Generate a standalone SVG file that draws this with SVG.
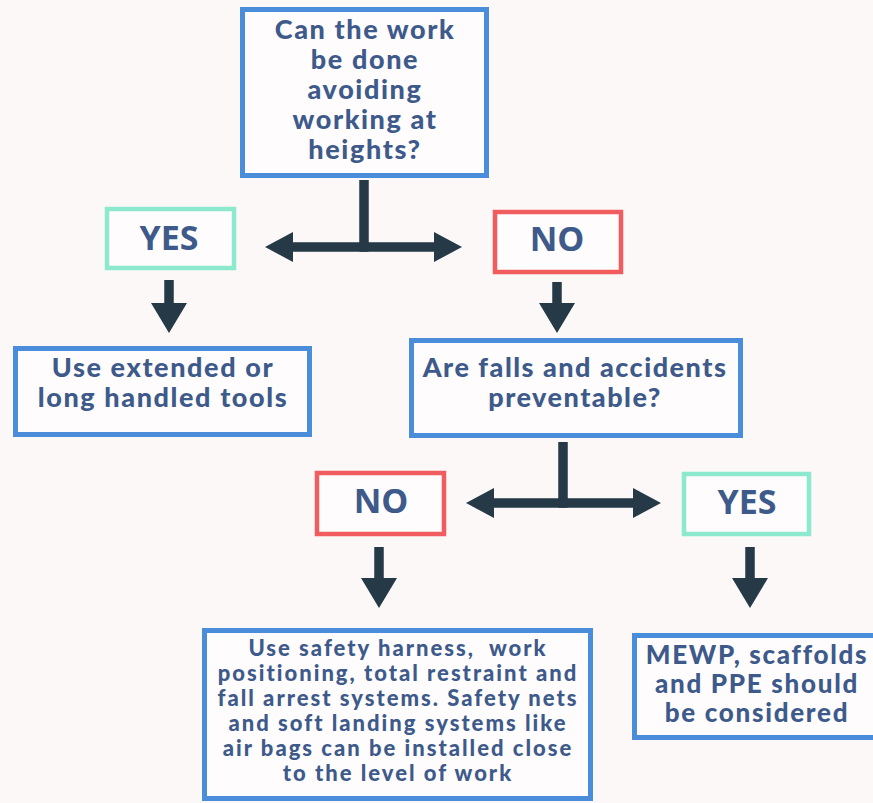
<svg xmlns="http://www.w3.org/2000/svg" width="873" height="803" viewBox="0 0 873 803">
<defs>
<style>
.bg{fill:#fcf8f7}
.box{fill:#fefcfc;stroke-width:5}
.blue{stroke:#4a8edb}
.green{stroke:#8ce9cd;stroke-width:4.5}
.red{stroke:#f15d5f;stroke-width:4.5}
.t{font-family:Lato,"Open Sans","DejaVu Sans",sans-serif;font-weight:900;fill:#3d5a8b;text-anchor:middle}
.yn{font-family:"Open Sans",Lato,"DejaVu Sans",sans-serif;font-weight:700;fill:#3d5a8b;text-anchor:middle;font-size:34px}
.c{fill:none;stroke:#253947;stroke-width:9.5}
</style>
<marker id="ah" viewBox="0 0 28 30" refX="2" refY="15" markerWidth="28" markerHeight="30" markerUnits="userSpaceOnUse" orient="auto">
<path d="M0,0 L28,15 L0,30 Z" fill="#253947"/>
</marker>
<marker id="av" viewBox="0 0 30 36" refX="2" refY="18" markerWidth="30" markerHeight="36" markerUnits="userSpaceOnUse" orient="auto">
<path d="M0,0 L30,18 L0,36 Z" fill="#253947"/>
</marker>
</defs>
<rect class="bg" x="0" y="0" width="873" height="803"/>

<g id="connectors">
<path class="c" d="M364,180 V247"/>
<path class="c" d="M368.5,247 H291" marker-end="url(#ah)"/>
<path class="c" d="M359.5,247 H436" marker-end="url(#ah)"/>
<path class="c" d="M563,442 V503"/>
<path class="c" d="M567.5,503 H492" marker-end="url(#ah)"/>
<path class="c" d="M558.5,503 H635" marker-end="url(#ah)"/>
<path class="c" d="M169,280 V305" marker-end="url(#av)"/>
<path class="c" d="M557,282 V305" marker-end="url(#av)"/>
<path class="c" d="M379,547 V580" marker-end="url(#av)"/>
<path class="c" d="M750,547 V580" marker-end="url(#av)"/>
</g>

<g id="q1">
<rect class="box blue" x="242.5" y="9.5" width="244" height="166"/>
<g font-size="27" letter-spacing="1.6">
<text class="t" x="365" y="39">Can the work</text>
<text class="t" x="365" y="69">be done</text>
<text class="t" x="365" y="99">avoiding</text>
<text class="t" x="365" y="129">working at</text>
<text class="t" x="365" y="159">heights?</text>
</g>
</g>

<g id="yes1">
<rect class="box green" x="107" y="209" width="127" height="59"/>
<text class="yn" x="169" y="250">YES</text>
</g>

<g id="no1">
<rect class="box red" x="495" y="212" width="126" height="60"/>
<text class="yn" x="557" y="251">NO</text>
</g>

<g id="tools">
<rect class="box blue" x="15.5" y="348.5" width="294" height="86"/>
<g font-size="27" letter-spacing="1.6">
<text class="t" x="163" y="377">Use extended or</text>
<text class="t" x="163" y="407">long handled tools</text>
</g>
</g>

<g id="q2">
<rect class="box blue" x="411.5" y="340.5" width="329" height="95"/>
<g font-size="27" letter-spacing="1.5">
<text class="t" x="575" y="377">Are falls and accidents</text>
<text class="t" x="575" y="407">preventable?</text>
</g>
</g>

<g id="no2">
<rect class="box red" x="317" y="473" width="127" height="61"/>
<text class="yn" x="381" y="513">NO</text>
</g>

<g id="yes2">
<rect class="box green" x="684" y="474" width="125" height="60"/>
<text class="yn" x="747" y="514">YES</text>
</g>

<g id="harness">
<rect class="box blue" x="204.5" y="630.5" width="386" height="168"/>
<g font-size="22" letter-spacing="2">
<text class="t" x="398" y="656" style="white-space:pre">Use safety harness,  work</text>
<text class="t" x="398" y="681">positioning, total restraint and</text>
<text class="t" x="398" y="706">fall arrest systems. Safety nets</text>
<text class="t" x="398" y="731">and soft landing systems like</text>
<text class="t" x="398" y="756">air bags can be installed close</text>
<text class="t" x="398" y="781">to the level of work</text>
</g>
</g>

<g id="mewp">
<rect class="box blue" x="634.5" y="635.5" width="245" height="102"/>
<g font-size="26" letter-spacing="1.7">
<text class="t" x="757" y="664">MEWP, scaffolds</text>
<text class="t" x="757" y="693">and PPE should</text>
<text class="t" x="757" y="722">be considered</text>
</g>
</g>
</svg>
